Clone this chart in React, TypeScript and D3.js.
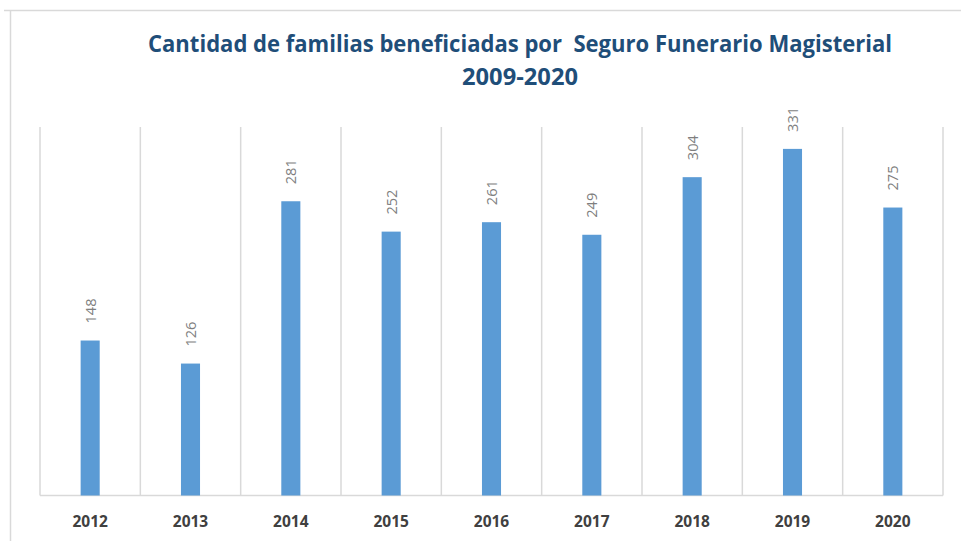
import React from "react";
import * as d3 from "d3";

const years = ["2012", "2013", "2014", "2015", "2016", "2017", "2018", "2019", "2020"];
const values = [148, 126, 281, 252, 261, 249, 304, 331, 275];
const titleLines = ["Cantidad de familias beneficiadas por  Seguro Funerario Magisterial", "2009-2020"];
const yMax = 350;

const W = 961;
const H = 541;
const plot = { left: 40, right: 943, top: 129, bottom: 495.5 };

export default function App() {
  const x = d3.scaleBand<string>().domain(years).range([plot.left, plot.right]).paddingInner(0).paddingOuter(0);
  const y = d3.scaleLinear().domain([0, yMax]).range([plot.bottom, plot.top]);
  const bw = x.bandwidth();
  const barW = bw * 0.19;
  const font = "'Open Sans', 'Liberation Sans', sans-serif";

  const gridXs = years.map((d) => x(d) as number).concat([plot.right]);

  return (
    <svg
      width={W}
      height={H}
      viewBox={`0 0 ${W} ${H}`}
      style={{ position: "absolute", left: 0, top: 0, background: "#fff" }}
    >
      <rect x={0} y={0} width={W} height={H} fill="#fff" />
      {/* outer frame */}
      <line x1={4} x2={W} y1={10.5} y2={10.5} stroke="#D9D9D9" strokeWidth={1.5} />
      <line x1={10.5} x2={10.5} y1={10} y2={H} stroke="#D9D9D9" strokeWidth={1.5} />

      {/* title */}
      <text
        x={520}
        y={52}
        textAnchor="middle"
        fontFamily={font}
        fontWeight="bold"
        fontSize={22.5}
        fill="#1F4E79"
        textLength={744}
        lengthAdjust="spacingAndGlyphs"
        style={{ whiteSpace: "pre" }}
      >
        {titleLines[0]}
      </text>
      <text
        x={520}
        y={84.5}
        textAnchor="middle"
        fontFamily={font}
        fontWeight="bold"
        fontSize={22.5}
        fill="#1F4E79"
        textLength={116}
        lengthAdjust="spacingAndGlyphs"
      >
        {titleLines[1]}
      </text>

      {/* vertical gridlines */}
      {gridXs.map((gx, i) => (
        <line key={i} x1={gx} x2={gx} y1={plot.top - 2} y2={plot.bottom} stroke="#D9D9D9" strokeWidth={1.5} />
      ))}
      {/* baseline */}
      <line x1={plot.left} x2={plot.right} y1={plot.bottom} y2={plot.bottom} stroke="#D9D9D9" strokeWidth={1.5} />

      {/* bars */}
      {years.map((yr, i) => {
        const cx = (x(yr) as number) + bw / 2;
        return (
          <rect
            key={yr}
            x={cx - barW / 2}
            y={y(values[i])}
            width={barW}
            height={plot.bottom - y(values[i])}
            fill="#5B9BD5"
          />
        );
      })}

      {/* data labels */}
      {years.map((yr, i) => {
        const cx = (x(yr) as number) + bw / 2;
        const ty = y(values[i]) - 17;
        return (
          <text
            key={yr}
            transform={`translate(${cx + 5.5},${ty}) rotate(-90)`}
            fontFamily={font}
            fontSize={15}
            fill="#7F7F7F"
            textAnchor="start"
            textLength={25}
            lengthAdjust="spacingAndGlyphs"
          >
            {values[i]}
          </text>
        );
      })}

      {/* x labels */}
      {years.map((yr) => (
        <text
          key={yr}
          x={(x(yr) as number) + bw / 2}
          y={527}
          textAnchor="middle"
          fontFamily={font}
          fontWeight="bold"
          fontSize={15.5}
          fill="#404040"
        >
          {yr}
        </text>
      ))}
    </svg>
  );
}
